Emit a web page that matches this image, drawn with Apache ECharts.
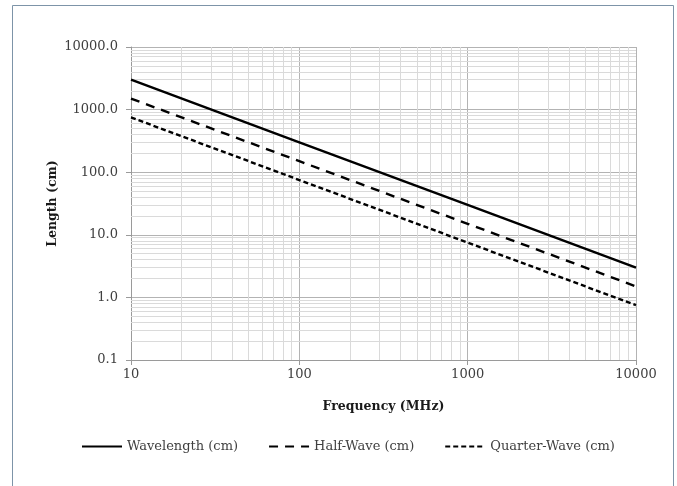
<!DOCTYPE html>
<html>
<head>
<meta charset="utf-8">
<script src="https://cdn.jsdelivr.net/npm/echarts@6/dist/echarts.min.js"></script>
<style>
  html, body { margin: 0; padding: 0; background: #fff; }
  #chart { width: 677px; height: 486px; }
</style>
</head>
<body>
<div id="chart"></div>
<script>
// Frequency in MHz and the corresponding antenna lengths in cm
const frequencies = [10, 100, 1000, 10000];
const wavelength = [3000, 300, 30, 3.0];
const halfWave = [1500, 150, 15, 1.5];
const quarterWave = [750, 75, 7.5, 0.75];

const xDecades = [10, 100, 1000, 10000];
const yDecades = [0.1, 1, 10, 100, 1000, 10000];

// Minor grid positions: 2..9 times each decade
function minorsOf(decades) {
  const out = [];
  for (let i = 0; i < decades.length - 1; i++) {
    for (let k = 2; k <= 9; k++) out.push(+(decades[i] * k).toPrecision(6));
  }
  return out;
}
const xMinor = minorsOf(xDecades);
const yMinor = minorsOf(yDecades);

const pair = (ys) => frequencies.map((f, i) => [f, ys[i]]);

const FONT = 'DejaVu Serif';
const chart = echarts.init(document.getElementById('chart'), null, { renderer: 'canvas' });

chart.setOption({
  backgroundColor: '#ffffff',
  animation: false,
  textStyle: { fontFamily: FONT },
  graphic: [{
    type: 'rect',
    shape: { x: 12.5, y: 5.5, width: 661, height: 500 },
    style: { fill: 'none', stroke: '#7d94a8', lineWidth: 1 },
    silent: true, z: 100
  }],
  grid: { left: 131, right: 41, top: 47, bottom: 126 },
  legend: {
    data: ['Wavelength (cm)', 'Half-Wave (cm)', 'Quarter-Wave (cm)'],
    top: 435,
    left: 76,
    itemWidth: 40,
    itemHeight: 14,
    itemGap: 30,
    itemStyle: { color: 'rgba(0,0,0,0)', borderWidth: 0 },
    textStyle: { fontFamily: FONT, fontSize: 13, color: '#404040' }
  },
  xAxis: {
    type: 'log',
    logBase: 10,
    min: 10,
    max: 10000,
    name: 'Frequency (MHz)',
    nameLocation: 'middle',
    nameGap: 40,
    nameTextStyle: { fontFamily: FONT, fontWeight: 'bold', fontSize: 12.5, color: '#1a1a1a' },
    axisLine: { show: true, lineStyle: { color: '#9a9a9a', width: 1 } },
    axisTick: { show: true, length: 5, lineStyle: { color: '#9a9a9a' } },
    axisLabel: { fontFamily: FONT, fontSize: 13, color: '#404040', margin: 8,
      formatter: (v) => String(Math.round(v)) },
    splitLine: { show: true, lineStyle: { color: '#b3b3b3', width: 1 } }
  },
  yAxis: {
    type: 'log',
    logBase: 10,
    min: 0.1,
    max: 10000,
    name: 'Length (cm)',
    nameLocation: 'middle',
    nameGap: 72,
    nameMoveOverlap: false,
    nameTextStyle: { fontFamily: FONT, fontWeight: 'bold', fontSize: 12.5, color: '#1a1a1a' },
    axisLine: { show: true, lineStyle: { color: '#9a9a9a', width: 1 } },
    axisTick: { show: true, length: 5, lineStyle: { color: '#9a9a9a' } },
    axisLabel: { fontFamily: FONT, fontSize: 13, color: '#404040', margin: 13,
      formatter: (v) => Number(v).toFixed(1) },
    splitLine: { show: true, lineStyle: { color: '#b3b3b3', width: 1 } }
  },
  series: [
    {
      name: 'grid-minor',
      type: 'line',
      data: [],
      silent: true,
      z: 1,
      markLine: {
        silent: true,
        symbol: 'none',
        animation: false,
        z: 1,
        label: { show: false },
        lineStyle: { color: '#dadada', width: 1, type: 'solid' },
        data: xMinor.map(v => ({ xAxis: v })).concat(yMinor.map(v => ({ yAxis: v })))
      }
    },
    {
      name: 'Wavelength (cm)',
      type: 'line',
      data: pair(wavelength),
      symbol: 'none',
      z: 3,
      lineStyle: { color: '#000000', width: 2.4, type: 'solid' },
      itemStyle: { color: '#000000' }
    },
    {
      name: 'Half-Wave (cm)',
      type: 'line',
      data: pair(halfWave),
      symbol: 'none',
      z: 3,
      lineStyle: { color: '#000000', width: 2.4, type: [9, 7] },
      itemStyle: { color: '#000000' }
    },
    {
      name: 'Quarter-Wave (cm)',
      type: 'line',
      data: pair(quarterWave),
      symbol: 'none',
      z: 3,
      lineStyle: { color: '#000000', width: 2.4, type: [5, 3] },
      itemStyle: { color: '#000000' }
    }
  ]
});
</script>
</body>
</html>
